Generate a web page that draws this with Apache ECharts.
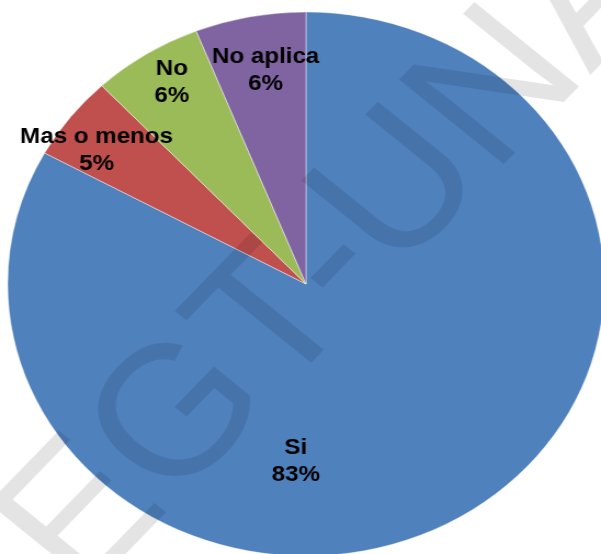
<!DOCTYPE html>
<html>
<head>
<meta charset="utf-8">
<title>Respuestas</title>
<script src="https://cdn.jsdelivr.net/npm/echarts@6/dist/echarts.min.js"></script>
<style>
  html, body { margin: 0; padding: 0; background: #fff; overflow: hidden; }
  #wrap { width: 601px; height: 554px; overflow: hidden; }
  /* the chart is drawn round, then widened to the page's aspect */
  #chart { width: 548px; height: 554px; transform: scaleX(1.0967); transform-origin: 0 0; }
</style>
</head>
<body>
<div id="wrap"><div id="chart"></div></div>
<script>
// Answer categories and their shares (percent)
var categories = ['Si', 'Mas o menos', 'No', 'No aplica'];
var values = [83, 5, 6, 6];
var colors = ['#4F81BD', '#C0504D', '#9BBB59', '#8064A2'];
var watermarkText = 'EGT-UNA';

var CX = 279, CY = 284, R = 272;

// where each label sits, as a fraction of the radius and a turn (degrees)
// away from the middle of its slice
var labelRadius = [0.655, 0.856, 0.868, 0.795];
var labelTurn = [33.6, -2.9, 1.2, 1.0];

var total = values.reduce(function (a, b) { return a + b; }, 0);
var midAngles = [];
(function () {
  var acc = 0;
  for (var i = 0; i < values.length; i++) {
    var span = values[i] / total * 360;
    midAngles.push(acc + span / 2);
    acc += span;
  }
})();

var chart = echarts.init(document.getElementById('chart'), null, { renderer: 'canvas' });

chart.setOption({
  animation: false,
  backgroundColor: '#ffffff',
  series: [{
    type: 'pie',
    center: [CX, CY],
    radius: R,
    startAngle: 90,
    clockwise: true,
    silent: true,
    data: categories.map(function (c, i) {
      return { name: c, value: values[i], itemStyle: { color: colors[i] } };
    }),
    itemStyle: { borderColor: 'rgba(255,255,255,0.55)', borderWidth: 0.8 },
    label: {
      show: true,
      position: 'inside',
      formatter: '{b}\n{d}%',
      fontFamily: '"Liberation Sans", Arial, sans-serif',
      fontWeight: 'bold',
      fontSize: 22,
      lineHeight: 27,
      color: '#000',
      align: 'center'
    },
    labelLine: { show: false },
    labelLayout: function (p) {
      var i = p.dataIndex;
      var a = (midAngles[i] + labelTurn[i]) * Math.PI / 180;
      var r = R * labelRadius[i];
      return {
        x: CX + r * Math.sin(a),
        y: CY - r * Math.cos(a),
        align: 'center',
        verticalAlign: 'middle'
      };
    }
  }],
  graphic: [{
    type: 'text',
    x: 309,
    y: 257,
    rotation: 48.5 * Math.PI / 180,
    silent: true,
    z: 100,
    style: {
      text: watermarkText,
      fontFamily: '"Liberation Sans", Arial, sans-serif',
      fontSize: 185,
      fill: 'rgba(0,0,0,0.105)',
      align: 'center',
      verticalAlign: 'middle'
    }
  }]
});
</script>
</body>
</html>
